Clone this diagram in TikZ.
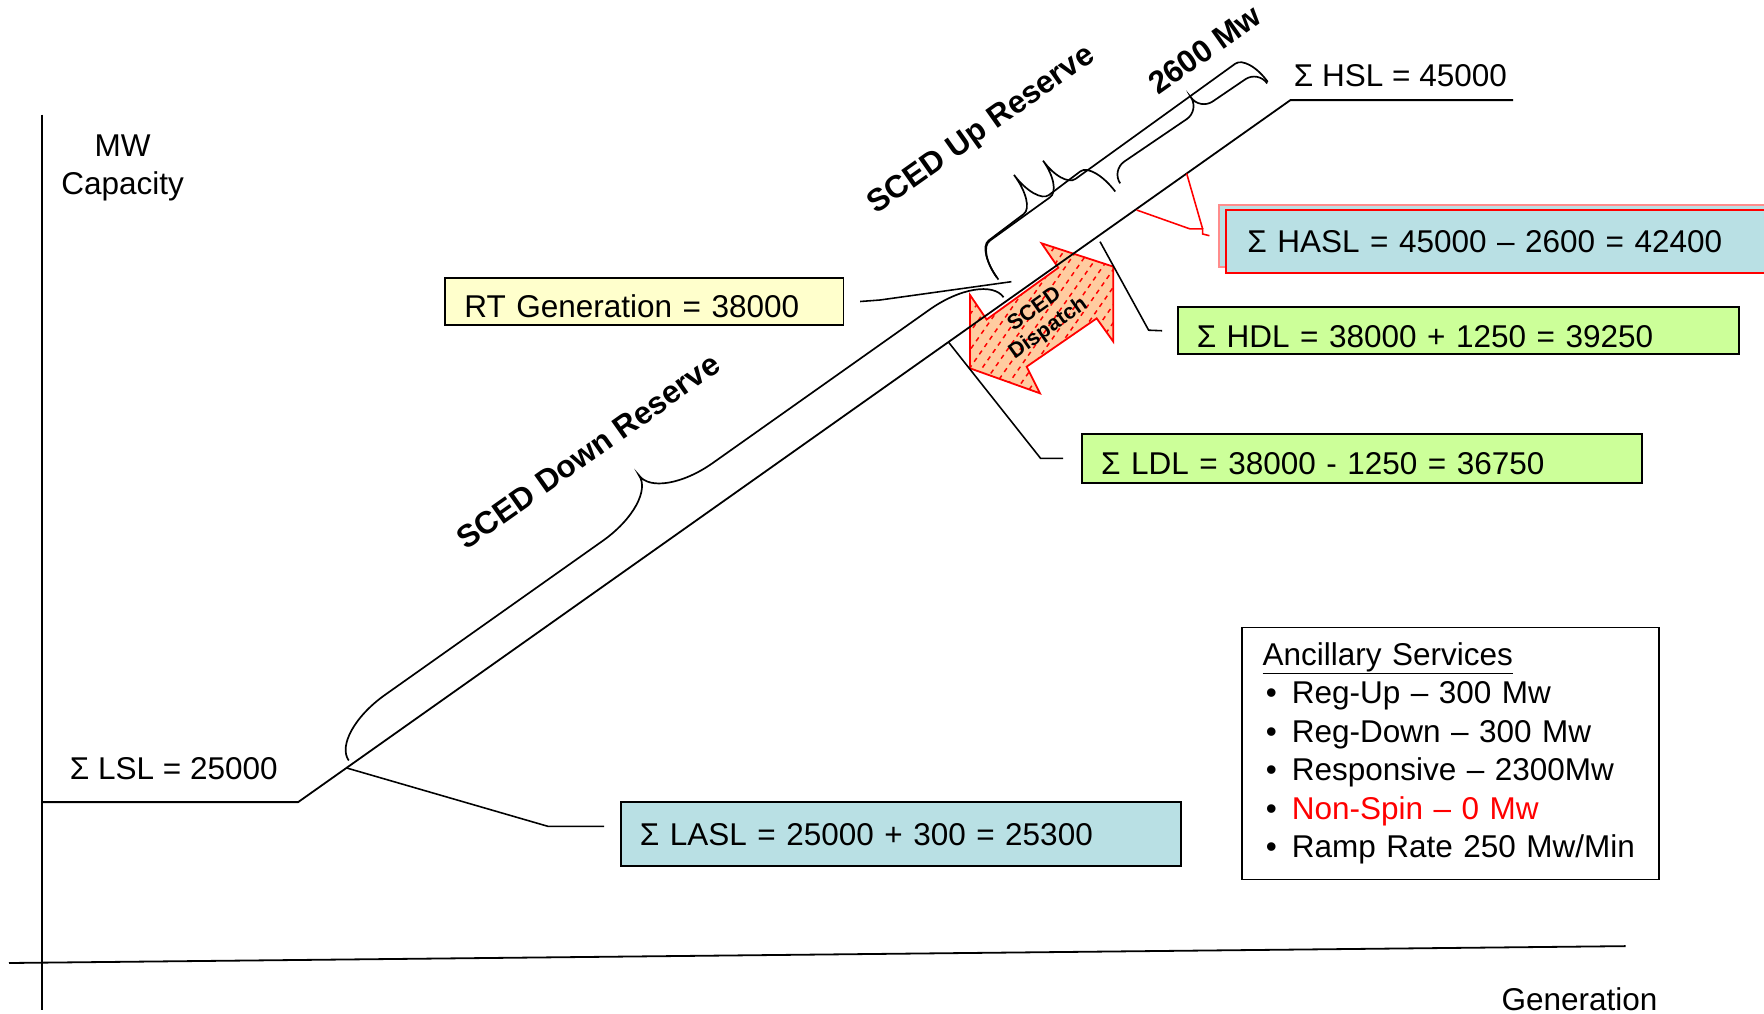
\documentclass[tikz,border=0pt]{standalone}
\usepackage{fontspec}
\setmainfont{Liberation Sans}
\usetikzlibrary{calc}

\definecolor{aslblue}{RGB}{185,224,228}
\definecolor{dlgreen}{RGB}{204,255,153}
\definecolor{rtyellow}{RGB}{255,255,204}
\definecolor{dispatchfill}{RGB}{255,204,160}
\definecolor{shadowred}{RGB}{255,140,140}

% curly brace along the supply curve: start, angle, length, cusp, height, hook
\newcommand{\drawbrace}[6]{%
  \draw[bracket, shift={#1}, rotate=#2] (0,0)
    .. controls (0,-0.55*#5) and (0.45*#6,-#5) .. (#6,-#5) -- (#4-#6,-#5)
    .. controls (#4-0.45*#6,-#5) and (#4,-1.45*#5) .. (#4,-2*#5)
    .. controls (#4,-1.45*#5) and (#4+0.45*#6,-#5) .. (#4+#6,-#5) -- (#3-#6,-#5)
    .. controls (#3-0.45*#6,-#5) and (#3,-0.55*#5) .. (#3,0);}
\newcommand{\ancitem}[1]{\hspace*{3pt}\makebox[23pt][l]{\textbullet}#1}
\newcommand{\dispatchshape}{(925.9,216.3) -- (940.7,238) -- (877,284) -- (862.2,262.2)
  -- (862.2,327.4) -- (924.4,349.6) -- (912.6,325.9) -- (974.8,283) -- (989.6,303.7)
  -- (989.6,237) -- cycle}

\begin{document}
\begin{tikzpicture}[x=1pt,y=-1pt,
    every node/.style={inner sep=0pt},
    font=\fontsize{28}{34}\selectfont,
    curve/.style={line width=1.6pt},
    bracket/.style={line width=1.5pt},
    leader/.style={line width=1.4pt},
    redleader/.style={line width=1.4pt, draw=red},
    infobox/.style={draw, line width=1.6pt, inner xsep=17pt, align=left, anchor=west},
    lowtext/.style={text height=29pt, text depth=0pt},
    reservetext/.style={font=\bfseries\fontsize{28}{34}\selectfont, rotate=35.3},
    hatch/.style={draw=red, line width=1.3pt, dash pattern=on 4pt off 4pt}]
  \useasboundingbox (0,0) rectangle (1568,901);
  \clip (0,0) rectangle (1568,901);

  % axes
  \draw[curve] (37,102) -- (37,898);
  \draw[curve] (8,856) -- (1445,841);
  \node[align=center] (ylabel) at (109,149) {MW\\Capacity};
  \node (xlabel) at (1404,888) {Generation};

  % SCED dispatch arrow
  \fill[dispatchfill] \dispatchshape;
  \begin{scope}
    \clip \dispatchshape;
    \foreach \i in {-14,...,14}
      \draw[hatch] (926+\i*7.4-70,283+\i*5.2+100) -- ++(140,-200);
  \end{scope}
  \draw[red, line width=1.6pt] \dispatchshape;
  \node[font=\bfseries\fontsize{19}{21}\selectfont, rotate=35.3, align=center] (dispatchtext) at (926,284) {SCED\\Dispatch};

  % supply curve
  \coordinate (lslcorner) at (265,713);
  \coordinate (hslcorner) at (1147,89);
  \draw[curve] (37,713) -- (lslcorner) -- (hslcorner) -- (1345,89);
  \node[anchor=west] (lsltext) at (62,683) {Σ LSL = 25000};
  \node[anchor=west] (hsltext) at (1150,67) {Σ HSL = 45000};

  % braces
  \drawbrace{(310,676)}{35.28}{713}{357}{29}{60}
  \drawbrace{(887.5,248.5)}{37}{130}{67}{33}{14}
  \drawbrace{(886,246.5)}{35.8}{297}{94}{30}{14}
  \drawbrace{(995.7,163)}{34.2}{158}{95}{14}{14}
  \node[reservetext] (downlabel) at (523,401) {SCED Down Reserve};
  \node[reservetext] (uplabel) at (873,116) {SCED Up Reserve};
  \node[reservetext] (mwlabel) at (1071,44) {2600 Mw};

  % limit boxes
  \node[infobox, lowtext, fill=rtyellow, text width=320pt, minimum height=42pt] (rtgen) at (395,268) {RT Generation = 38000};
  \node[infobox, fill=aslblue, text width=464pt, minimum height=57pt] (lasl) at (551,741.5) {Σ LASL = 25000 + 300 = 25300};
  \node[infobox, lowtext, fill=dlgreen, text width=465pt, minimum height=42pt] (hdl) at (1046,294) {Σ HDL = 38000 + 1250 = 39250};
  \node[infobox, lowtext, fill=dlgreen, text width=464pt, minimum height=43pt] (ldl) at (961,407.5) {Σ LDL = 38000 - 1250 = 36750};
  \node[infobox, draw=shadowred, fill=aslblue, text width=566pt, minimum height=55pt] (haslshadow) at (1083,209.5) {};
  \node[infobox, draw=red, fill=aslblue, inner xsep=19pt, text width=562pt, minimum height=56pt] (hasl) at (1089,215) {Σ HASL = 45000 – 2600 = 42400};

  % leaders
  \coordinate (laslpt) at (308,682.6);
  \coordinate (rtpt) at (899,250.4);
  \coordinate (hdlpt) at (977.8,214.8);
  \coordinate (ldlpt) at (843,304);
  \coordinate (haslptA) at (1010.4,186.7);
  \coordinate (haslptB) at (1054.8,154.2);
  \draw[leader] (laslpt) -- (487,734.5) -- ($(lasl.west)+(-14,-7)$);
  \draw[leader] (rtpt) -- (782,266.7) -- ($(rtgen.east)+(14,0)$);
  \draw[leader] (hdlpt) -- (1021,293.5) -- ($(hdl.west)+(-13,0)$);
  \draw[leader] (ldlpt) -- (925,407.5) -- ($(ldl.west)+(-16,0)$);
  \draw[redleader] (haslptA) -- (1057.8,203.5) -- (1069,203.5) -- (1069,208) -- ($(haslshadow.west)+(-8,0)$);
  \draw[redleader] (haslptB) -- (1069,203.5);

  % ancillary services
  \node[draw, line width=1.6pt, anchor=north west, inner xsep=18pt, text width=334pt, minimum height=224pt, align=left, font=\fontsize{28}{34.2}\selectfont] (ancillary) at (1103.5,557)
    {\underline{Ancillary Services}\\\ancitem{Reg-Up – 300 Mw}\\\ancitem{Reg-Down – 300 Mw}\\\ancitem{Responsive – 2300Mw}\\\ancitem{\textcolor{red}{Non-Spin – 0 Mw}}\\\ancitem{Ramp Rate 250 Mw/Min}};
\end{tikzpicture}
\end{document}
